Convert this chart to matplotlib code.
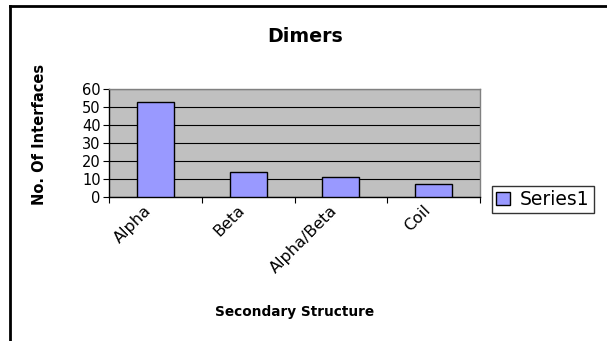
import matplotlib
matplotlib.use("Agg")
import matplotlib.pyplot as plt
import matplotlib.transforms as mtransforms
from matplotlib.lines import Line2D
import numpy as np

categories = ["Alpha", "Beta", "Alpha/Beta", "Coil"]
interfaces = [53, 14, 11, 7]
series_name = "Series1"

BAR_COLOR = "#9999ff"
PLOT_BG = "#c0c0c0"

fig = plt.figure(figsize=(6.07, 3.41), dpi=100)
ax = fig.add_axes([109 / 607, 1 - 197 / 341, 371 / 607, 108 / 341])

x = np.arange(len(categories))
ax.bar(x, interfaces, width=0.4, color=BAR_COLOR, edgecolor="black",
       linewidth=1.0, label=series_name, zorder=3)

ax.set_facecolor(PLOT_BG)
ax.set_xlim(-0.5, len(categories) - 0.5)
ax.set_ylim(0, 60)
ax.set_yticks(np.arange(0, 61, 10))
ax.yaxis.grid(True, color="black", linewidth=0.8, zorder=1)
ax.set_axisbelow(True)

# category ticks sit between the bars, Excel-style
ax.set_xticks(np.arange(len(categories) + 1) - 0.5, minor=False)
ax.set_xticklabels([])
ax.set_xticks(x, minor=True)
ax.set_xticklabels(categories, minor=True, rotation=45, ha="right",
                   va="center", rotation_mode="anchor", fontsize=11.5)
ax.tick_params(axis="x", which="minor", length=0, pad=8)
ax.tick_params(axis="x", which="major", length=4, width=0.8, direction="out")
ax.tick_params(axis="y", length=4, width=0.8, labelsize=10.5, pad=2)

# nudge the slanted labels so they end just left of each category centre
shift = mtransforms.ScaledTranslation(-6 / 100, 0, fig.dpi_scale_trans)
for lbl in ax.get_xticklabels(minor=True):
    lbl.set_transform(lbl.get_transform() + shift)

for side in ["top", "right"]:
    ax.spines[side].set_color("#808080")
    ax.spines[side].set_linewidth(1.0)
for side in ["left", "bottom"]:
    ax.spines[side].set_color("black")
    ax.spines[side].set_linewidth(1.0)

fig.text(305 / 607, 1 - 36 / 341, "Dimers", ha="center", va="center",
         fontsize=13.7, fontweight="bold")
fig.text(295 / 607, 1 - 312 / 341, "Secondary Structure", ha="center",
         va="center", fontsize=9.8, fontweight="bold")
fig.text(40 / 607, 1 - 134 / 341, "No. Of Interfaces", ha="center",
         va="center", rotation=90, fontsize=10.5, fontweight="bold")

handles, labels = ax.get_legend_handles_labels()
leg = fig.legend(handles, labels, loc="center left",
                 bbox_to_anchor=(492 / 607, 1 - 199.5 / 341), fontsize=13.5,
                 frameon=True, fancybox=False, handlelength=0.75,
                 handleheight=0.65, handletextpad=0.55, borderpad=0.2,
                 borderaxespad=0)
leg.get_frame().set_edgecolor("black")
leg.get_frame().set_linewidth(1.0)
leg._legend_box.align = "left"

# outer chart frame (left and top edges)
fig.add_artist(Line2D([10 / 607, 10 / 607], [0, 1 - 6 / 341],
                      transform=fig.transFigure, color="black", linewidth=2))
fig.add_artist(Line2D([10 / 607, 1], [1 - 6 / 341, 1 - 6 / 341],
                      transform=fig.transFigure, color="black", linewidth=2))

fig.savefig("out.png", dpi=100)
